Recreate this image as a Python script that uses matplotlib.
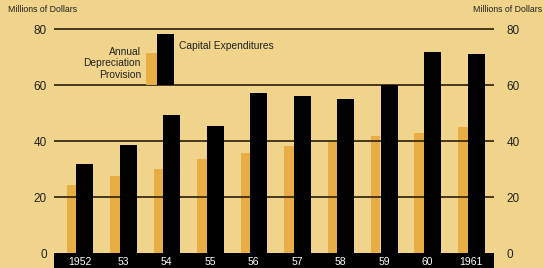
import matplotlib.pyplot as plt
from matplotlib.patches import Rectangle

plt.rcParams['font.family'] = ['Liberation Sans', 'DejaVu Sans']

years = ["1952", "53", "54", "55", "56", "57", "58", "59", "60", "1961"]
capital = [31.8, 38.5, 49.3, 45.2, 57.3, 56.0, 54.9, 59.9, 71.9, 71.0]
depreciation = [24.4, 27.5, 30.1, 33.6, 35.7, 38.1, 40.1, 41.9, 43.0, 45.1]
grid_values = [20, 40, 60, 80]
legend_base = 60
legend_capital = 78.2
legend_depreciation = 71.4

bg = '#f1d48c'
orange = '#e8ad45'
line_col = '#3b2c14'

fig = plt.figure(figsize=(5.44, 2.68), dpi=100)
fig.patch.set_facecolor(bg)

W, H = 544, 268
ax = fig.add_axes([54 / W, 0, 440 / W, 1])
ax.set_facecolor(bg)

px = 2.8  # pixels per unit
ymin = -15 / px
ymax = 253 / px
ax.set_ylim(ymin, ymax)
xmin = -30.5 / 43.5
ax.set_xlim(xmin, xmin + 440 / 43.5)

x = list(range(len(years)))
bw = 17 / 43.5
ow = 9.5 / 43.5
orange_x = [i - bw / 2 - ow / 2 for i in x]

ax.bar(orange_x, depreciation, width=ow, color=orange, zorder=1, linewidth=0)
for g in grid_values:
    ax.axhline(g, color=line_col, lw=1.3, zorder=2)
ax.bar(x, capital, width=bw, color='black', zorder=3, linewidth=0)

# black baseline band with year labels
ax.add_patch(Rectangle((xmin, ymin), 440 / 43.5, -ymin, color='black', zorder=4, lw=0))
for i, lab in enumerate(years):
    ax.text(i - ow / 2, -9 / px, lab, color='white',
            ha='center', va='center', fontsize=7.5, zorder=5)

# legend bars
lx_black = (165.5 - 54) / 43.5 + xmin
lx_orange = (151.5 - 54) / 43.5 + xmin
ax.bar([lx_orange], [legend_depreciation - legend_base], bottom=legend_base,
       width=10.5 / 43.5, color=orange, zorder=3, linewidth=0)
ax.bar([lx_black], [legend_capital - legend_base], bottom=legend_base,
       width=17 / 43.5, color='black', zorder=3, linewidth=0)
ax.text((179 - 54) / 43.5 + xmin, (253 - 46) / px, "Capital Expenditures",
        ha='left', va='center', fontsize=7.4, color='#222222')
ax.text((141 - 54) / 43.5 + xmin, (253 - 63.5) / px, "Annual\nDepreciation\nProvision",
        ha='right', va='center', fontsize=7.4, color='#222222', linespacing=1.2)

ax.set_xticks([])
ax.set_yticks([0] + grid_values)
ax.set_yticklabels(["0"] + [str(g) for g in grid_values], fontsize=8.5, color='#222222')
ax.tick_params(axis='y', length=0, pad=5)
ax2 = ax.twinx()
ax2.set_ylim(ymin, ymax)
ax2.set_yticks([0] + grid_values)
ax2.set_yticklabels(["0"] + [str(g) for g in grid_values], fontsize=8.5, color='#222222')
ax2.tick_params(axis='y', length=0, pad=9)
for a in (ax, ax2):
    for s in a.spines.values():
        s.set_visible(False)

fig.text(8 / W, 1 - 10 / H, "Millions of Dollars", fontsize=6.3, ha='left', va='center', color='#222222')
fig.text(542 / W, 1 - 10 / H, "Millions of Dollars", fontsize=6.3, ha='right', va='center', color='#222222')

fig.savefig('out.png', dpi=100, facecolor=bg)
